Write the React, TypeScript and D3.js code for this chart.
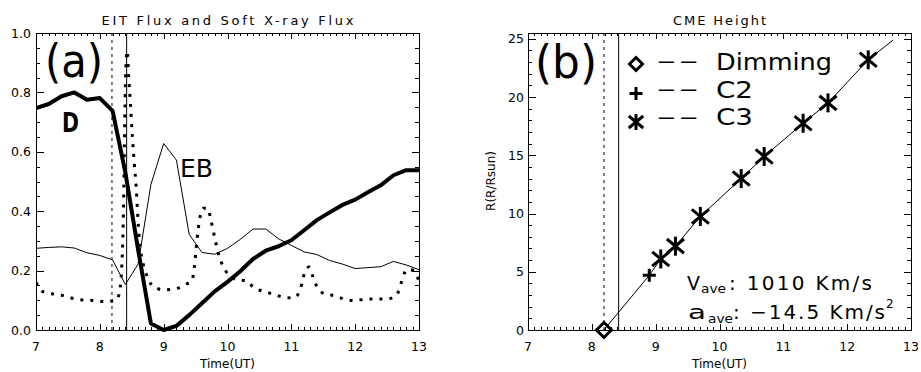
import React from "react";
import * as d3 from "d3";

// ---------- data ----------
const dimTimes = [7.0, 7.2, 7.4, 7.6, 7.8, 8.0, 8.2, 8.4, 8.6, 8.8, 9.0, 9.2, 9.4, 9.6, 9.8, 10.0, 10.2, 10.4, 10.6, 10.8, 11.0, 11.2, 11.4, 11.6, 11.8, 12.0, 12.2, 12.4, 12.6, 12.8, 13.0];
const dimValues = [0.747, 0.761, 0.787, 0.8, 0.775, 0.781, 0.738, 0.53, 0.27, 0.022, 0.0, 0.014, 0.05, 0.09, 0.13, 0.162, 0.198, 0.239, 0.267, 0.282, 0.302, 0.336, 0.37, 0.396, 0.421, 0.439, 0.464, 0.487, 0.521, 0.538, 0.538];

const ebTimes = [7.0, 7.2, 7.4, 7.6, 7.8, 8.0, 8.2, 8.4, 8.6, 8.8, 9.0, 9.2, 9.4, 9.6, 9.8, 10.0, 10.2, 10.4, 10.6, 10.8, 11.0, 11.2, 11.4, 11.6, 11.8, 12.0, 12.2, 12.4, 12.6, 12.8, 13.0];
const ebValues = [0.275, 0.278, 0.28, 0.276, 0.26, 0.251, 0.236, 0.153, 0.222, 0.49, 0.628, 0.572, 0.322, 0.261, 0.255, 0.275, 0.305, 0.34, 0.34, 0.307, 0.285, 0.263, 0.254, 0.234, 0.222, 0.207, 0.21, 0.213, 0.231, 0.219, 0.203];

const sxrTimes = [7.0, 7.1, 7.25, 7.4, 7.55, 7.7, 7.85, 8.0, 8.1, 8.2, 8.26, 8.3, 8.34, 8.37, 8.39, 8.41, 8.43, 8.45, 8.48, 8.51, 8.54, 8.57, 8.59, 8.62, 8.66, 8.71, 8.8, 8.9, 9.0, 9.1, 9.25, 9.36, 9.44, 9.48, 9.52, 9.57, 9.63, 9.69, 9.74, 9.8, 9.86, 9.93, 10.0, 10.14, 10.3, 10.4, 10.56, 10.72, 10.88, 11.03, 11.12, 11.17, 11.22, 11.28, 11.34, 11.4, 11.53, 11.69, 11.83, 12.0, 12.16, 12.31, 12.47, 12.6, 12.68, 12.73, 12.78, 12.84, 12.91, 13.0];
const sxrValues = [0.16, 0.13, 0.122, 0.117, 0.108, 0.102, 0.1, 0.097, 0.095, 0.098, 0.1, 0.12, 0.2, 0.4, 0.7, 0.9, 0.94, 0.86, 0.76, 0.65, 0.56, 0.48, 0.4, 0.3, 0.24, 0.2, 0.155, 0.14, 0.135, 0.136, 0.143, 0.155, 0.165, 0.21, 0.3, 0.38, 0.41, 0.41, 0.37, 0.31, 0.255, 0.215, 0.19, 0.17, 0.165, 0.145, 0.13, 0.121, 0.11, 0.108, 0.125, 0.16, 0.2, 0.212, 0.178, 0.146, 0.121, 0.115, 0.104, 0.099, 0.104, 0.104, 0.104, 0.11, 0.13, 0.165, 0.195, 0.205, 0.2, 0.165];

const eventOnset = 8.19; // dotted vertical
const flarePeak = 8.42; // solid vertical

const dimmingTime = [8.19];
const dimmingHeight = [0];
const c2Times = [8.9];
const c2Heights = [4.7];
const c3Times = [9.08, 9.31, 9.7, 10.34, 10.7, 11.31, 11.7, 12.33];
const c3Heights = [6.1, 7.2, 9.75, 13.0, 14.9, 17.75, 19.5, 23.2];
const fitTimes = [8.19, 8.9, 9.08, 9.31, 9.7, 10.34, 10.7, 11.31, 11.7, 12.33, 12.72];
const fitHeights = [0.0, 4.7, 6.1, 7.2, 9.75, 13.0, 14.9, 17.75, 19.5, 23.2, 24.9];

const xTickLabels = ["7", "8", "9", "10", "11", "12", "13"];
const xTickValues = [7, 8, 9, 10, 11, 12, 13];
const fluxTickValues = [0, 0.2, 0.4, 0.6, 0.8, 1.0];
const fluxTickLabels = ["0.0", "0.2", "0.4", "0.6", "0.8", "1.0"];
const heightTickValues = [0, 5, 10, 15, 20, 25];
const heightTickLabels = ["0", "5", "10", "15", "20", "25"];

// ---------- layout ----------
const W = 921, H = 372;
const TOP = 33, BOTTOM = 330;
const LEFT_A = 36, RIGHT_A = 419;
const LEFT_B = 528, RIGHT_B = 911;
const FONT = "'DejaVu Sans', sans-serif";

type Scale = d3.ScaleLinear<number, number>;

function frameTicks(sx: Scale, sy: Scale, yMajor: number[], yMinor: number[]) {
  const [xL, xR] = sx.range();
  const [yB, yT] = sy.range();
  const xMinor = d3.range(70, 131).map((v) => v / 10).filter((v) => Math.abs(v - Math.round(v)) > 1e-6);
  const r = (v: number) => Math.round(v) + 0.5;
  const segs: [number, number, number, number][] = [];
  xTickValues.forEach((v) => {
    const px = r(sx(v));
    segs.push([px, yB, px, yB - 6]);
    segs.push([px, yT, px, yT + 6]);
  });
  xMinor.forEach((v) => {
    const px = r(sx(v));
    segs.push([px, yB, px, yB - 3]);
    segs.push([px, yT, px, yT + 3]);
  });
  yMajor.forEach((v) => {
    const py = r(sy(v));
    segs.push([xL, py, xL + 7.5, py]);
    segs.push([xR, py, xR - 7.5, py]);
  });
  yMinor.forEach((v) => {
    const py = r(sy(v));
    segs.push([xL, py, xL + 3.8, py]);
    segs.push([xR, py, xR - 3.8, py]);
  });
  return segs.map((s) => `M${s[0]},${s[1]}L${s[2]},${s[3]}`).join("");
}

function Frame({ sx, sy, yMajor, yMinor, yLabels, yLabelX }: { sx: Scale; sy: Scale; yMajor: number[]; yMinor: number[]; yLabels: string[]; yLabelX: number }) {
  const [xL, xR] = sx.range();
  const [yB, yT] = sy.range();
  return (
    <g>
      <rect x={xL + 0.5} y={yT + 0.5} width={xR - xL} height={yB - yT} fill="none" stroke="#000" strokeWidth={1} shapeRendering="crispEdges" />
      <path d={frameTicks(sx, sy, yMajor, yMinor)} fill="none" stroke="#000" strokeWidth={1} shapeRendering="crispEdges" />
      <g fill="#000" fontFamily={FONT} fontSize={12.5}>
        {xTickValues.map((v, i) => (
          <text key={"xl" + i} x={sx(v)} y={351} textAnchor="middle">{xTickLabels[i]}</text>
        ))}
        {yMajor.map((v, i) => (
          <text key={"yl" + i} x={yLabelX} y={sy(v) + 4.5} textAnchor="end">{yLabels[i]}</text>
        ))}
        <text x={(xL + xR) / 2} y={367.5} textAnchor="middle" fontSize={12}>Time(UT)</text>
      </g>
    </g>
  );
}

function Asterisk({ cx, cy, s }: { cx: number; cy: number; s: number }) {
  const dx = s * 0.9, dy = s * 0.75;
  return (
    <g stroke="#000" strokeWidth={3} strokeLinecap="butt">
      <line x1={cx} x2={cx} y1={cy - s} y2={cy + s} />
      <line x1={cx - dx} x2={cx + dx} y1={cy - dy} y2={cy + dy} />
      <line x1={cx - dx} x2={cx + dx} y1={cy + dy} y2={cy - dy} />
    </g>
  );
}
function Plus({ cx, cy, s }: { cx: number; cy: number; s: number }) {
  return (
    <g stroke="#000" strokeWidth={3}>
      <line x1={cx - s} x2={cx + s} y1={cy} y2={cy} />
      <line x1={cx} x2={cx} y1={cy - s} y2={cy + s} />
    </g>
  );
}
function Diamond({ cx, cy, s }: { cx: number; cy: number; s: number }) {
  return <path d={`M${cx},${cy - s}L${cx + s},${cy}L${cx},${cy + s}L${cx - s},${cy}Z`} fill="none" stroke="#000" strokeWidth={3} />;
}

export default function App() {
  const xa = d3.scaleLinear().domain([7, 13]).range([LEFT_A, RIGHT_A]);
  const ya = d3.scaleLinear().domain([0, 1]).range([BOTTOM, TOP]);
  const xb = d3.scaleLinear().domain([7, 13]).range([LEFT_B, RIGHT_B]);
  const yb = d3.scaleLinear().domain([0, 25.5]).range([BOTTOM, TOP]);

  const lineA = (ts: number[], vs: number[], curve = d3.curveLinear) =>
    d3.line<number>().x((_, i) => xa(ts[i])).y((v) => ya(v)).curve(curve)(vs) || "";
  const fitPath = d3.line<number>().x((_, i) => xb(fitTimes[i])).y((v) => yb(v))(fitHeights) || "";

  const fluxMinor = d3.range(0, 21).map((v) => v * 0.05).filter((v) => Math.abs(v * 5 - Math.round(v * 5)) > 1e-6);
  const heightMinor = d3.range(0, 26).filter((v) => v % 5 !== 0);

  return (
    <svg width={W} height={H} style={{ position: "absolute", left: 0, top: 0, background: "#fff" }}>
      <rect x={0} y={0} width={W} height={H} fill="#fff" />
      <defs>
        <clipPath id="clipA"><rect x={LEFT_A} y={TOP - 2} width={RIGHT_A - LEFT_A} height={BOTTOM - TOP + 4} /></clipPath>
      </defs>
      {/* Titles */}
      <text x={227.5} y={25} textAnchor="middle" fontFamily={FONT} fontSize={13} textLength={252} lengthAdjust="spacing">EIT Flux and Soft X-ray Flux</text>
      <text x={719.5} y={25} textAnchor="middle" fontFamily={FONT} fontSize={13} textLength={93} lengthAdjust="spacing">CME Height</text>

      {/* Panel (a) */}
      <Frame sx={xa} sy={ya} yMajor={fluxTickValues} yMinor={fluxMinor} yLabels={fluxTickLabels} yLabelX={31} />
      <g clipPath="url(#clipA)">
        <line x1={xa(eventOnset)} x2={xa(eventOnset)} y1={TOP} y2={BOTTOM} stroke="#000" strokeWidth={1} strokeDasharray="3 4" />
        <line x1={xa(flarePeak)} x2={xa(flarePeak)} y1={TOP} y2={BOTTOM} stroke="#000" strokeWidth={1} />
        <path d={lineA(ebTimes, ebValues)} fill="none" stroke="#000" strokeWidth={1} />
        <path d={lineA(sxrTimes, sxrValues, d3.curveMonotoneX)} fill="none" stroke="#000" strokeWidth={3} strokeDasharray="3 7" />
        <path d={lineA(dimTimes, dimValues)} fill="none" stroke="#000" strokeWidth={4} strokeLinejoin="round" />
      </g>
      <text x={45} y={77} fontFamily={FONT} fontSize={46} textLength={58} lengthAdjust="spacingAndGlyphs">(a)</text>
      <text x={62} y={131.5} fontFamily={FONT} fontSize={27} fontWeight="bold" textLength={17} lengthAdjust="spacingAndGlyphs">D</text>
      <text x={180} y={176.5} fontFamily={FONT} fontSize={25} textLength={33} lengthAdjust="spacingAndGlyphs">EB</text>

      {/* Panel (b) */}
      <Frame sx={xb} sy={yb} yMajor={heightTickValues} yMinor={heightMinor} yLabels={heightTickLabels} yLabelX={524} />
      <text transform="translate(495,181) rotate(-90)" textAnchor="middle" fontFamily={FONT} fontSize={12}>R(R/Rsun)</text>
      <line x1={xb(eventOnset)} x2={xb(eventOnset)} y1={TOP} y2={BOTTOM} stroke="#000" strokeWidth={1} strokeDasharray="3 4" />
      <line x1={xb(flarePeak)} x2={xb(flarePeak)} y1={TOP} y2={BOTTOM} stroke="#000" strokeWidth={1} />
      <path d={fitPath} fill="none" stroke="#000" strokeWidth={1} />
      {dimmingTime.map((t, i) => <Diamond key={"d" + i} cx={xb(t)} cy={yb(dimmingHeight[i])} s={7.5} />)}
      {c2Times.map((t, i) => <Plus key={"p" + i} cx={xb(t)} cy={yb(c2Heights[i])} s={6.5} />)}
      {c3Times.map((t, i) => <Asterisk key={"a" + i} cx={xb(t)} cy={yb(c3Heights[i])} s={9.5} />)}

      <text x={535} y={78} fontFamily={FONT} fontSize={46} textLength={62} lengthAdjust="spacingAndGlyphs">(b)</text>

      {/* Legend */}
      <Diamond cx={636} cy={64} s={6.5} />
      <Plus cx={636} cy={93.5} s={6.5} />
      <Asterisk cx={636} cy={122} s={8} />
      <g fontFamily={FONT} fontSize={23}>
        <text x={658} y={69} textLength={39} lengthAdjust="spacingAndGlyphs">— —</text>
        <text x={658} y={97} textLength={39} lengthAdjust="spacingAndGlyphs">— —</text>
        <text x={658} y={125} textLength={39} lengthAdjust="spacingAndGlyphs">— —</text>
        <text x={716} y={70} textLength={116} lengthAdjust="spacingAndGlyphs">Dimming</text>
        <text x={716} y={97.5} textLength={37} lengthAdjust="spacingAndGlyphs">C2</text>
        <text x={716} y={125} textLength={37} lengthAdjust="spacingAndGlyphs">C3</text>
      </g>

      {/* Velocity / acceleration annotation */}
      <g fontFamily={FONT}>
        <text x={687} y={289.5} fontSize={20} textLength={13} lengthAdjust="spacingAndGlyphs">V</text>
        <text x={701} y={293} fontSize={12} textLength={25} lengthAdjust="spacingAndGlyphs">ave</text>
        <text x={729} y={289.5} fontSize={20} textLength={143} lengthAdjust="spacing">: 1010 Km/s</text>
        <text x={688} y={318.5} fontSize={20} textLength={18} lengthAdjust="spacingAndGlyphs">a</text>
        <text x={708} y={322.5} fontSize={12} textLength={25} lengthAdjust="spacingAndGlyphs">ave</text>
        <text x={733} y={318.5} fontSize={20} textLength={152} lengthAdjust="spacing">: −14.5 Km/s</text>
        <text x={886} y={308} fontSize={12}>2</text>
      </g>
    </svg>
  );
}
